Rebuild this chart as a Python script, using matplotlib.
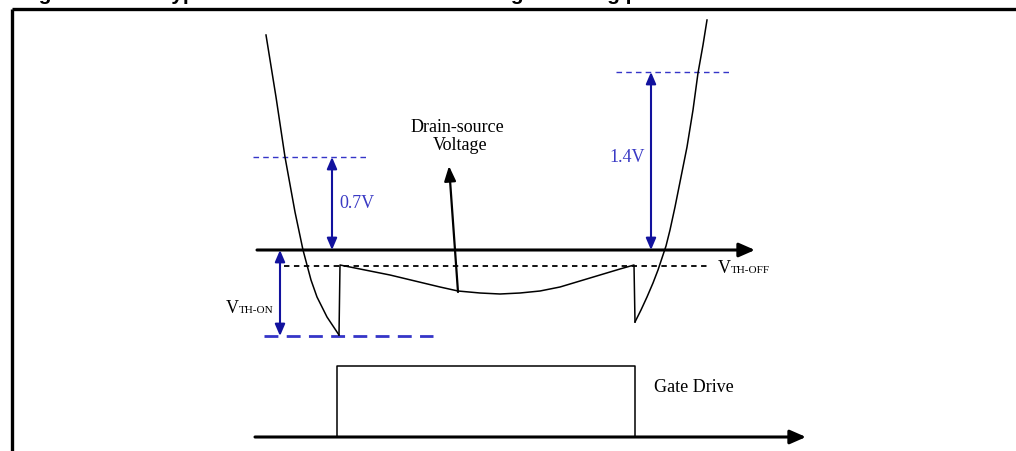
import numpy as np
import matplotlib.pyplot as plt

# everything is laid out in picture pixels (x right, y down)
W, H = 1016, 451

# left U-shaped branch (drain voltage before turn-on)
left_x = [266, 276, 285, 295, 303, 307, 311, 317, 327, 339]
left_y = [35, 97, 157, 212, 250, 265, 280, 297, 317, 335]

# conduction part: jump up then sag and recover
cond_x = [339, 340, 365, 390, 415, 440, 458, 480, 500, 520, 540, 560, 580, 600, 620, 634, 635]
cond_y = [335, 265, 270, 275, 281, 287, 291, 293, 294, 293, 291, 287, 281, 275, 269, 265, 322]

# right branch (after turn-off)
right_x = [635, 641, 647, 653, 658, 662, 666, 670, 675, 681, 687, 693, 698, 703, 707]
right_y = [322, 310, 297, 283, 270, 258, 246, 230, 207, 177, 147, 110, 73, 45, 20]

# gate drive pulse
gate_x = [337, 337, 635, 635]
gate_y = [437, 366, 366, 437]

# levels
axis_y = 250
vth_off_y = 266
vth_on_y = 336
level_07 = 157
level_14 = 72

blue_dash = "#3535c8"
blue_arrow = "#12129e"
blue_text = "#3a3ac4"
serif = "Liberation Serif"

fig = plt.figure(figsize=(W / 100, H / 100), dpi=100)
ax = fig.add_axes([0, 0, 1, 1])
ax.set_xlim(0, W)
ax.set_ylim(H, 0)
ax.axis("off")

# frame (only top and left edges visible)
ax.plot([12, W], [9, 9], color="black", lw=2.4, solid_capstyle="butt")
ax.plot([12, 12], [9, H], color="black", lw=2.4, solid_capstyle="butt")

# caption, cut off by the top edge as in the source
ax.text(20, -0.5, "Figure 4.", fontsize=15, fontweight="bold", family="Liberation Sans", va="baseline", clip_on=False)
ax.text(160, -0.5, "Typical MOSFET drain-source voltage sensing profile", fontsize=15, fontweight="bold",
        family="Liberation Sans", va="baseline", clip_on=False)


def arrow(tail, tip, color, lw, style, scale):
    ax.annotate("", xy=tip, xytext=tail,
                arrowprops=dict(arrowstyle=style, color=color, lw=lw, mutation_scale=scale,
                                shrinkA=0, shrinkB=0))


# main voltage axis
arrow((257, axis_y), (755, axis_y), "black", 2.2, "-|>,head_length=0.8,head_width=0.35", 12)
# V_TH-OFF threshold
ax.plot([284, 707], [vth_off_y, vth_off_y], color="black", lw=1.3, dashes=(3, 2.5))
# V_TH-ON level
ax.plot([264, 433], [vth_on_y, vth_on_y], color=blue_dash, lw=2.0, dashes=(5, 3))
# 0.7V and 1.4V levels
ax.plot([253, 367], [level_07, level_07], color=blue_dash, lw=1.0, dashes=(4, 3))
ax.plot([616, 730], [level_14, level_14], color=blue_dash, lw=1.0, dashes=(4, 3))

blue_style = "<|-|>,head_length=0.7,head_width=0.3"
arrow((280, axis_y), (280, vth_on_y), blue_arrow, 1.5, blue_style, 10)
arrow((332, level_07), (332, axis_y), blue_arrow, 1.5, blue_style, 10)
arrow((651, level_14), (651, axis_y), blue_arrow, 1.5, blue_style, 10)

# waveform
ax.plot(left_x, left_y, color="black", lw=1.1)
ax.plot(cond_x, cond_y, color="black", lw=1.1)
ax.plot(right_x, right_y, color="black", lw=1.1)

# pointer to the waveform
arrow((458, 292), (449, 166), "black", 1.6, "-|>,head_length=0.9,head_width=0.35", 10)

# gate drive
arrow((255, 437), (806, 437), "black", 2.2, "-|>,head_length=0.8,head_width=0.35", 12)
ax.plot(gate_x, gate_y, color="black", lw=1.1)

# labels
ax.text(457, 127, "Drain-source", fontsize=13, family=serif, ha="center", va="center")
ax.text(460, 146, "Voltage", fontsize=13, family=serif, ha="center", va="center")
ax.text(339, 203, "0.7V", fontsize=13, family=serif, color=blue_text, va="center")
ax.text(645, 157, "1.4V", fontsize=13, family=serif, color=blue_text, va="center", ha="right")
ax.text(654, 387, "Gate Drive", fontsize=13, family=serif, va="center")

ax.text(718, 273, "V", fontsize=13, family=serif, va="baseline")
ax.text(731, 273, "TH-OFF", fontsize=8, family=serif, va="baseline")
ax.text(226, 313, "V", fontsize=13, family=serif, va="baseline")
ax.text(239, 313, "TH-ON", fontsize=8, family=serif, va="baseline")

fig.savefig("out.png", dpi=100)
